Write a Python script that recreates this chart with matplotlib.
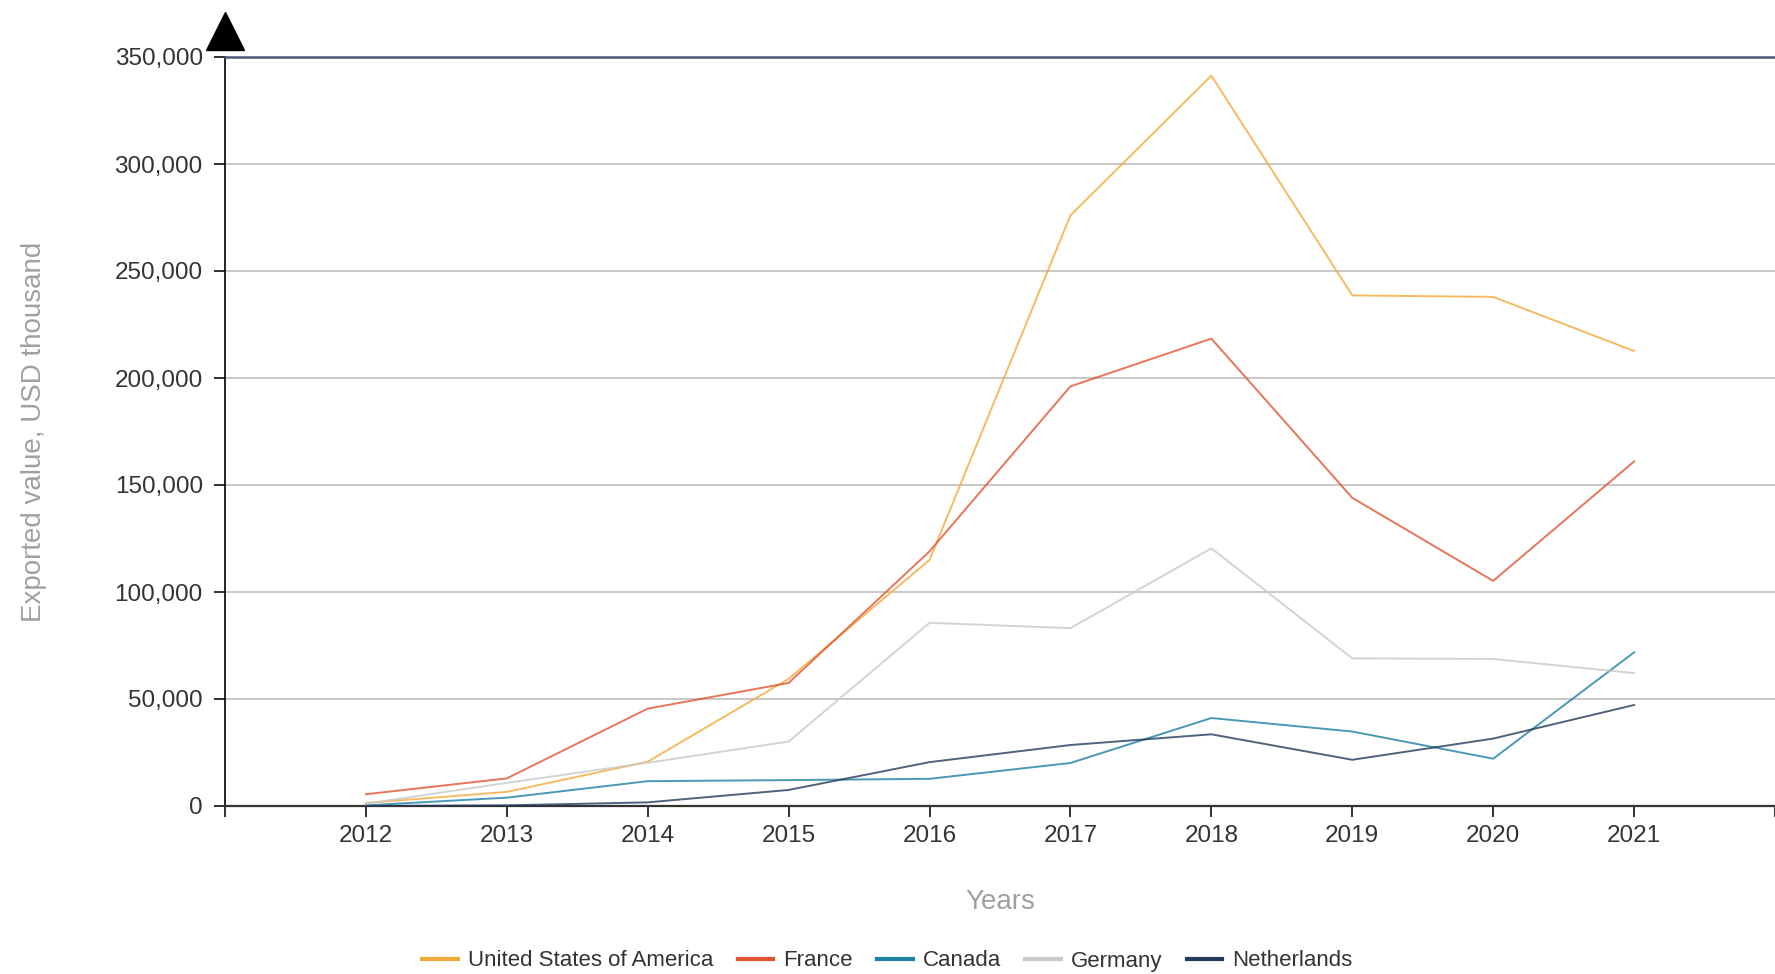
import matplotlib
matplotlib.use("Agg")
import matplotlib.pyplot as plt
from matplotlib.lines import Line2D
from matplotlib.ticker import FuncFormatter

# ---- data -------------------------------------------------------------------
years = [2012, 2013, 2014, 2015, 2016, 2017, 2018, 2019, 2020, 2021]

usa = [1400, 6600, 20700, 59400, 115000, 276000, 341300, 238600, 237900, 212600]
france = [5500, 12900, 45500, 57500, 119000, 196100, 218400, 144000, 105200, 161000]
canada = [300, 3900, 11600, 12100, 12700, 20100, 41100, 34800, 22100, 71800]
germany = [1100, 10800, 20200, 30100, 85600, 83100, 120400, 69000, 68700, 62100]
netherlands = [0, 300, 1700, 7500, 20500, 28500, 33500, 21600, 31500, 47200]

series_names = ["United States of America", "France", "Canada", "Germany", "Netherlands"]
series_vals = [usa, france, canada, germany, netherlands]
colors = ["#F4A93B", "#E2532F", "#1D7FA3", "#C9C9C9", "#233B5C"]

y_ticks = [0, 50000, 100000, 150000, 200000, 250000, 300000, 350000]

# ---- figure ------------------------------------------------------------------
plt.rcParams["font.family"] = ["Liberation Sans", "DejaVu Sans"]

fig = plt.figure(figsize=(17.75, 9.74), dpi=100)
ax = fig.add_axes([225 / 1775, 1 - 806 / 974, 1 - 225 / 1775, (806 - 57) / 974])

for name, vals, c in zip(series_names, series_vals, colors):
    ax.plot(years, vals, color=c, lw=1.4, alpha=0.8, label=name, zorder=3)

ax.set_xlim(2011, 2022)
ax.set_ylim(0, 350000)

ax.set_yticks(y_ticks)
ax.yaxis.set_major_formatter(FuncFormatter(lambda v, p: f"{int(v):,}"))
ax.set_xticks(range(2011, 2023))
ax.set_xticklabels([""] + [str(y) for y in years] + [""])

ax.tick_params(axis="both", labelsize=17.5, colors="#222222", labelcolor="#333333",
               length=8, width=1.3, direction="out")
ax.tick_params(axis="x", pad=6)
ax.tick_params(axis="y", pad=8)

ax.grid(axis="y", color="#C8C8C8", lw=1.4)
ax.set_axisbelow(True)

ax.spines["right"].set_visible(False)
ax.spines["top"].set_color("#4A5A6E")
ax.spines["top"].set_linewidth(1.8)
ax.spines["bottom"].set_color("#333333")
ax.spines["bottom"].set_linewidth(1.6)
ax.spines["left"].set_color("#111111")
ax.spines["left"].set_linewidth(1.3)

# arrow head on top of the y axis
ax.plot([0], [1.035], marker="^", markersize=27, color="black",
        transform=ax.transAxes, clip_on=False, zorder=5)

ax.set_ylabel("Exported value, USD thousand", fontsize=20, color="#A0A0A0")
ax.yaxis.set_label_coords(-0.115, 0.5)
ax.set_xlabel("Years", fontsize=20, color="#A0A0A0", labelpad=30)

handles = [Line2D([0], [0], color=c, lw=3) for c in colors]
leg = fig.legend(handles, series_names, loc="center", bbox_to_anchor=(0.5, 1 - 961 / 974),
                 ncol=5, frameon=False, handlelength=1.6, handletextpad=0.45,
                 columnspacing=1.1, prop={"size": 16})
for t in leg.get_texts():
    t.set_color("#333333")

fig.savefig("out.png", dpi=100)
